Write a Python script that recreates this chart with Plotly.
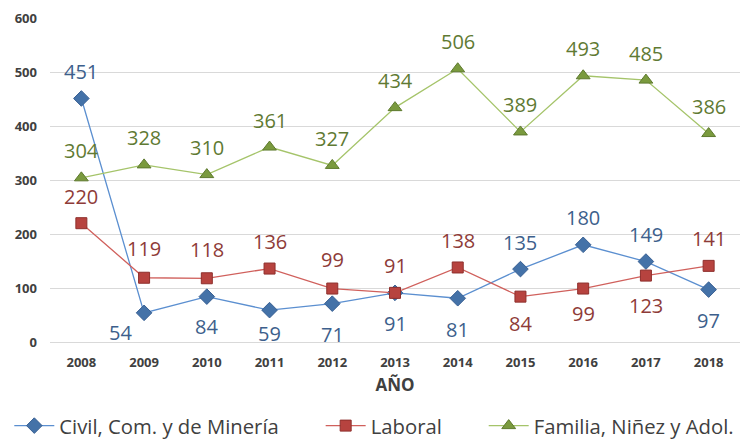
import plotly.graph_objects as go

years = ["2008", "2009", "2010", "2011", "2012", "2013", "2014", "2015", "2016", "2017", "2018"]
civil = [451, 54, 84, 59, 71, 91, 81, 135, 180, 149, 97]
laboral = [220, 119, 118, 136, 99, 91, 138, 84, 99, 123, 141]
familia = [304, 328, 310, 361, 327, 434, 506, 389, 493, 485, 386]

# label offsets (px) relative to the point
civil_dy = [27, -20, -30, -23, -31, -31, -31, 27, 27, 27, -31]
civil_dx = [0, -24, 0, 0, 0, 0, 0, 0, 0, 0, 0]
laboral_dy = [27, 29, 29, 27, 29, 27, 27, -27, -25, -30, 27]
familia_dy = [27] * 11

xv = [int(y) for y in years]
FONT = "Open Sans"
PAD = "\u00a0" * 7

fig = go.Figure()
fig.add_trace(go.Scatter(
    x=xv, y=civil, name="Civil, Com. y de Minería" + PAD, mode="lines+markers",
    line=dict(color="#5B8FD0", width=1.3),
    marker=dict(symbol="diamond", size=12, color="#4472A8", line=dict(color="#3A6194", width=1)),
))
fig.add_trace(go.Scatter(
    x=xv, y=laboral, name="Laboral" + PAD, mode="lines+markers",
    line=dict(color="#D0605C", width=1.3),
    marker=dict(symbol="square", size=11, color="#B7433F", line=dict(color="#8E2F2C", width=1)),
))
fig.add_trace(go.Scatter(
    x=xv, y=familia, name="Familia, Niñez y Adol.", mode="lines+markers",
    line=dict(color="#A5C46A", width=1.3),
    marker=dict(symbol="triangle-up", size=12, color="#7A9A3E", line=dict(color="#5E7A2E", width=1)),
))

def add_labels(vals, dy, color, dx=None):
    for i, yv in enumerate(vals):
        fig.add_annotation(
            x=xv[i], y=yv, text=str(yv), showarrow=False,
            xshift=(dx[i] if dx else 0), yshift=dy[i],
            font=dict(family=FONT, size=20, color=color),
        )

add_labels(civil, civil_dy, "#3D5F8C", civil_dx)
add_labels(laboral, laboral_dy, "#8E3B38")
add_labels(familia, familia_dy, "#5F7A33")

fig.update_layout(
    width=746, height=441,
    margin=dict(l=50, r=6, t=18, b=99, autoexpand=False),
    paper_bgcolor="white", plot_bgcolor="white",
    font=dict(family=FONT, color="#404040"),
    showlegend=True,
    legend=dict(
        orientation="h", xref="paper", yref="paper",
        x=-0.059, xanchor="left", y=-0.259, yanchor="middle",
        font=dict(family=FONT, size=20.3, color="#404040"),
        itemwidth=40, tracegroupgap=0,
    ),
    xaxis=dict(
        range=[xv[0] - 0.5, xv[-1] + 0.5], tickvals=xv, ticktext=years, showgrid=False,
        showline=False, zeroline=False, ticks="",
        tickfont=dict(family=FONT, size=13, color="#404040", weight="bold"),
        ticklabelstandoff=11,
        title=dict(text="<b>AÑO</b>", font=dict(family=FONT, size=17, color="#404040"), standoff=9),
    ),
    yaxis=dict(
        range=[0, 600], dtick=100, showgrid=True, gridcolor="#D9D9D9", gridwidth=1,
        zeroline=True, zerolinecolor="#D9D9D9", zerolinewidth=1, showline=False, ticks="",
        tickfont=dict(family=FONT, size=13, color="#404040", weight="bold"),
        ticklabelstandoff=12,
    ),
)

fig.write_html(
    "out.html",
    config={"displayModeBar": False},
    post_script="document.body.style.margin='0';document.body.style.overflow='hidden';",
)
